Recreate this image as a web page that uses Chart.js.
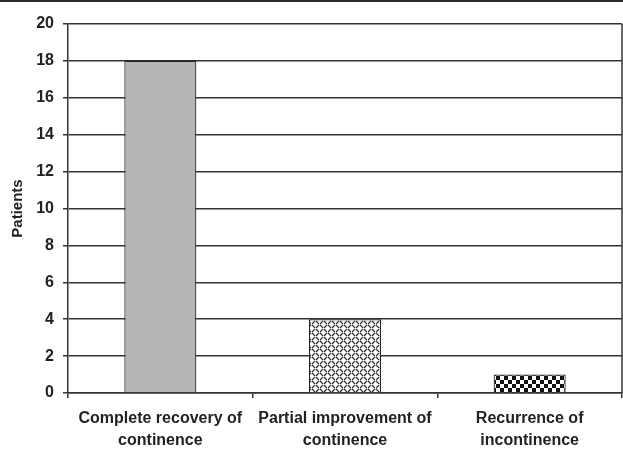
<!DOCTYPE html>
<html><head><meta charset="utf-8">
<script src="https://cdn.jsdelivr.net/npm/chart.js@4"></script>
<style>
html,body{margin:0;padding:0;background:#fff;}
#wrap{position:relative;width:623px;height:449px;}
#topline{position:absolute;left:0;top:0;width:623px;height:2px;background:#2a2a2a;}
</style></head><body>
<div id="wrap"><div id="topline"></div><canvas id="c" width="623" height="449"></canvas></div>
<script>
const categories = [["Complete recovery of","continence"],["Partial improvement of","continence"],["Recurrence of","incontinence"]];
const patients = [18, 4, 1];
const yTicks = [0,2,4,6,8,10,12,14,16,18,20];

function hatchPattern(){
  const t=document.createElement('canvas');t.width=8;t.height=8;
  const g=t.getContext('2d');
  g.fillStyle='#fff';g.fillRect(0,0,8,8);
  g.strokeStyle='#2a2a2a';g.lineWidth=1.2;g.lineCap='butt';
  g.beginPath();
  g.moveTo(0,4);g.lineTo(3,1);g.moveTo(4,1);g.lineTo(7,4);
  g.moveTo(-4,8);g.lineTo(-1,5);g.moveTo(0,5);g.lineTo(3,8);
  g.moveTo(4,8);g.lineTo(7,5);g.moveTo(8,5);g.lineTo(11,8);
  g.stroke();
  return g.createPattern(t,'repeat');
}
function checkPattern(){
  const t=document.createElement('canvas');t.width=8;t.height=8;
  const g=t.getContext('2d');
  g.fillStyle='#fff';g.fillRect(0,0,8,8);
  g.fillStyle='#111';g.fillRect(0,0,4,4);g.fillRect(4,4,4,4);
  return g.createPattern(t,'repeat');
}
const ctx=document.getElementById('c').getContext('2d');
const fills=['#b5b5b7',hatchPattern(),checkPattern()];

const borderPlugin={id:'rb',afterDraw(ch){const a=ch.chartArea,g=ch.ctx;g.save();g.strokeStyle='#333';g.lineWidth=1.5;g.beginPath();g.moveTo(a.right,a.top);g.lineTo(a.right,a.bottom);g.stroke();g.restore();}};

new Chart(ctx,{
  type:'bar',
  data:{labels:categories,datasets:[{data:patients,backgroundColor:fills,borderColor:'#222',borderWidth:1.2,barPercentage:0.39,categoryPercentage:1}]},
  options:{
    responsive:false,animation:false,
    layout:{padding:{top:24,right:1,left:9,bottom:0}},
    plugins:{legend:{display:false},tooltip:{enabled:false}},
    scales:{
      x:{
        grid:{offset:true,drawOnChartArea:false,color:'#333',lineWidth:1.5,tickLength:5},
        border:{color:'#333',width:1.5},
        ticks:{color:'#222',font:{family:'"Liberation Sans",Arial,sans-serif',size:16,weight:'bold',lineHeight:1.35},padding:10,maxRotation:0,autoSkip:false},
        afterFit(s){s.height=56;}
      },
      y:{
        min:0,max:20,
        afterBuildTicks(s){s.ticks=yTicks.map(v=>({value:v}));},
        grid:{color:'#333',lineWidth:1.5,tickLength:5},
        border:{color:'#333',width:1.5},
        ticks:{color:'#222',font:{family:'"Liberation Sans",Arial,sans-serif',size:16,weight:'bold'},padding:9},
        title:{display:true,text:'Patients',color:'#222',font:{family:'"Liberation Sans",Arial,sans-serif',size:15,weight:'bold'},padding:{top:0,bottom:0}},
        afterFit(s){s.width=59;}
      }
    }
  },
  plugins:[borderPlugin]
});
</script></body></html>
